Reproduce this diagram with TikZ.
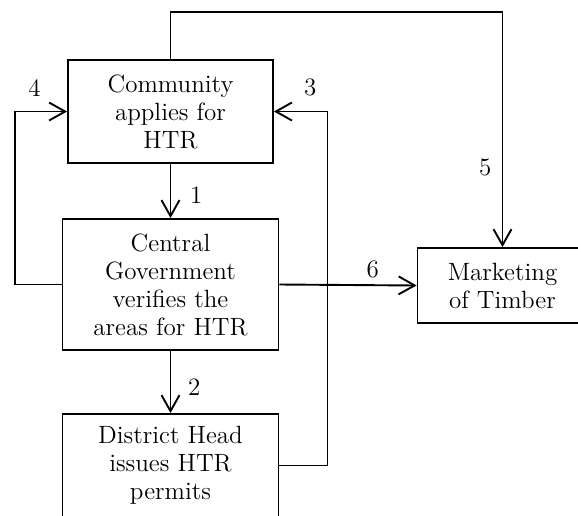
\documentclass[tikz,border=0pt]{standalone}
\usepackage{tikz}
\usetikzlibrary{positioning,arrows.meta}
\tikzstyle{block} = [draw, rectangle, line width=0.95pt, align=center, inner sep=0pt, font=\fontsize{12.5}{14}\selectfont]
\tikzstyle{num} = [font=\fontsize{12.5}{14}\selectfont]
\tikzstyle{to} = [-{Straight Barb[length=8pt,width=9pt,line width=0.95pt]}, line width=0.95pt]

\begin{document}
\begin{tikzpicture}[auto]
	\useasboundingbox (0,0) rectangle (289pt,-257.5pt);
	\node (community) [block, minimum width=102.5pt, minimum height=51.5pt] at (85.25pt,-55.75pt) {Community\\applies for\\HTR};
	\node (central) [block, below of=community, node distance=86.5pt, minimum width=108pt, minimum height=65.5pt] {Central\\Government\\verifies the\\areas for HTR};
	\node (district) [block, below of=central, node distance=90.5pt, minimum width=108pt, minimum height=51.5pt] {District Head\\issues HTR\\permits};
	\node (marketing) [block, right of=central, node distance=166pt, minimum width=85pt, minimum height=37.5pt, yshift=-0.5pt] {Marketing\\of Timber};
	\draw [to] (community.south) -- node [num, pos=0.57, right=6pt] {1} (central.north);
	\draw [to] (central.south) -- node [num, pos=0.58, right=5pt] {2} (district.north);
	\draw [to] (district.east) -- ++(24pt,0) |- node [num, pos=0.66, above=3.7pt] {3} (community.east);
	\draw [to] (central.west) -- ++(-23.5pt,0) |- node [num, pos=0.69, above=3.7pt] {4} (community.west);
	\draw [to] (community.north) -- ++(0,23.5pt) -| node [num, pos=0.83, left=1.7pt] {5} (marketing.north);
	\draw [to] (central.east) -- node [num, pos=0.68, above=0pt] {6} (marketing.west);
\end{tikzpicture}
\end{document}
